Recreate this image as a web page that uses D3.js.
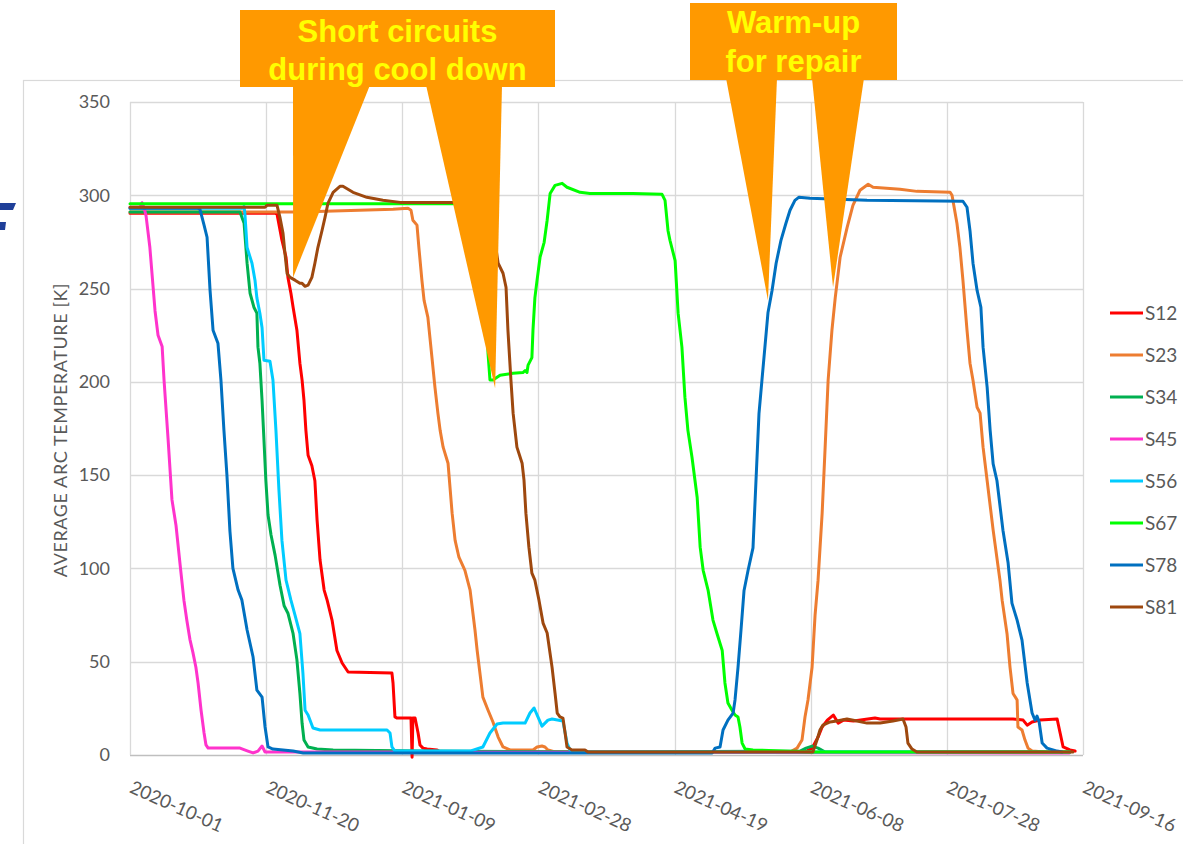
<!DOCTYPE html>
<html><head><meta charset="utf-8">
<script src="https://cdn.jsdelivr.net/npm/d3@7"></script>
<style>body{margin:0;background:#fff;overflow:hidden}</style>
</head><body><svg id="c" width="1183" height="844"></svg>
<script>
// ---------- data ----------
const startDate = "2020-10-01";
const tickLabels = ["2020-10-01","2020-11-20","2021-01-09","2021-02-28","2021-04-19","2021-06-08","2021-07-28","2021-09-16"];
const yTicks = [0,50,100,150,200,250,300,350];
const seriesNames = ["S12","S23","S34","S45","S56","S67","S78","S81"];
const seriesColors = ["#FF0000","#ED7D31","#00B050","#FF33CC","#00CCFF","#00FF00","#0070C0","#9E480E"];
const yTitle = "AVERAGE ARC TEMPERATURE [K]";
// each point: [days since 2020-10-01, temperature K]
const S12 = [[0,290.4],[53.3,290.4],[54.0,289.8],[55.8,275.9],[57.3,266.8],[58.0,256],[59.1,247.5],[59.9,240],[61.3,227.7],[62.4,210],[63.2,200.9],[63.9,190],[64.6,174],[65.4,160.7],[66.8,155],[67.9,147],[68.7,126],[69.8,104.5],[71.3,88.4],[72.4,83],[74.2,72.3],[76.0,56],[77.9,49.3],[80.1,44.5],[96.2,43.9],[96.6,38.6],[97.3,20.4],[98.1,19.8],[103.2,19.8],[103.6,-1.2],[103.9,19.8],[104.7,19.8],[105.8,11.8],[106.5,5.4],[107.6,3.7],[109.1,3.2],[112.8,2.7],[113.9,1.6],[247.9,1.6],[250.5,3.7],[252.7,9.6],[254.2,15],[256.1,18.7],[258.3,21.4],[260.1,17.1],[262.0,18.7],[265.7,18.2],[273.6,19.8],[275.5,19.3],[324.3,19.3],[328.0,18.7],[329.5,16],[331.3,17.7],[334.2,18.7],[340.5,19.3],[341.6,11.8],[342.7,4.3],[345.2,2.7],[347.1,2.1]];
const S23 = [[0,291],[62.4,291],[96.6,292.5],[102.1,293],[103.2,292],[103.9,286.6],[105.4,284],[106.1,272],[107.2,254.5],[108.0,243.7],[109.4,234.6],[110.9,213],[112.0,197],[113.1,183],[113.9,174],[115.0,165],[116.8,156.4],[118.3,129.6],[119.4,115],[120.8,106],[123.0,99],[124.9,88.4],[126.7,67],[127.5,56],[129.6,31],[131.5,24],[133.3,17.7],[135.2,9.6],[137.0,4.3],[139.6,2.7],[148.0,2.7],[149.5,4.3],[151.3,4.8],[152.4,4.3],[153.5,2.7],[156.1,1.6],[242.4,1.6],[245.0,3.7],[246.8,8],[247.9,20.4],[249.0,29.5],[250.5,47],[251.6,75],[252.7,93.7],[254.2,129.6],[255.3,165],[256.4,201],[257.8,227.7],[259.0,245],[260.8,266.8],[263.4,282.9],[265.5,294.6],[268.1,302.7],[271.1,305.9],[272.9,304.3],[282.8,303.2],[289.0,302.1],[301.2,301.6],[301.9,300],[303.7,285],[304.8,272],[305.9,254.5],[307.4,227.7],[308.5,210],[309.6,200.9],[311.1,186.4],[312.2,183.2],[313.3,165],[314.8,147],[317.0,120.5],[319.5,93.7],[320.3,83],[322.1,65],[323.2,47],[324.3,33],[325.8,29.5],[326.1,15],[327.6,13.4],[328.7,8],[329.8,3.7],[331.3,2.1],[336,1.6]];
const S34 = [[0,291],[40.4,291],[41.9,285],[43.0,263.6],[44.1,247.5],[45.5,240],[46.6,236.8],[47.0,218.6],[47.7,210],[48.5,190],[49.2,168.7],[49.9,147],[50.7,128.6],[51.8,117.9],[53.3,107],[55.1,91],[56.6,80],[58.0,76],[59.9,65],[61.3,51],[62.4,33],[63.2,17],[63.9,8],[65.4,4.3],[68.7,3.2],[74.6,2.7],[106.5,2.1],[172.6,1.6],[246.1,2.1],[248.3,3.7],[250.5,4.8],[252.7,3.7],[255.3,1.6],[345.2,1.6]];
const S45 = [[0,293.6],[3.7,293.6],[4.4,296],[5.1,293.6],[5.9,289],[7.3,272],[9.2,238],[10.3,225],[11.8,219],[12.5,201],[14.0,169],[15.4,137],[16.9,123],[18.4,102],[19.8,83],[20.9,72],[22.0,62],[23.1,55],[24.2,47],[25.0,38.6],[26.1,24],[27.2,11.8],[27.9,5.4],[28.7,3.7],[40.4,3.7],[43.3,2.1],[45.2,1.1],[47.0,2.1],[48.5,4.8],[49.6,1.6],[73.5,1.6],[345,1.1]];
const S56 = [[0,293],[41.1,293],[41.9,294],[42.2,290],[43.0,272],[44.8,263.6],[45.9,254.5],[46.6,245],[47.7,236.8],[48.5,229],[49.2,211.6],[51.4,211],[52.5,201],[53.6,174],[54.7,142],[55.8,115],[57.3,93.7],[59.1,83],[60.6,75],[62.4,65],[63.5,44],[64.3,24],[65.4,21.4],[67.2,14.5],[69.8,13.4],[94.4,13.4],[95.5,11.8],[96.2,4.3],[97.3,2.1],[124.9,2.1],[129.6,4.3],[132.2,11.8],[134.8,16.6],[137.0,17.1],[145.1,17.1],[146.9,22.5],[148.4,25.2],[151.3,15.5],[153.5,18.7],[155.0,19.3],[159.0,18.2],[160.5,6.4],[161.6,2.7],[163.4,1.6],[345.2,1.6]];
const S67 = [[0,295.5],[128.5,295.5],[130.4,265],[131.5,215],[132.2,201],[133.3,201],[135.9,203.6],[140.7,204.6],[144.3,205],[145.1,206],[145.8,205],[146.2,209],[147.6,213],[148.0,227.7],[148.7,245],[149.5,254.5],[150.6,266.8],[152.1,274.8],[153.2,286.6],[154.3,301],[156.1,305.3],[158.7,306.4],[160.5,304.3],[165.3,301.6],[168.9,301],[184.7,301],[195.4,300.5],[196.5,297.3],[197.6,281],[198.3,275.9],[200.2,265],[201.3,236.8],[202.7,218.6],[203.8,191.8],[204.9,174],[206.4,159.6],[208.3,138],[209.4,111.4],[210.5,99],[212.3,88.4],[214.1,72.3],[215.6,65],[217.5,56],[218.5,38.6],[219.6,27.9],[221.1,24],[222.2,21.4],[223.3,20.4],[224.0,15],[224.8,6.4],[225.9,3.2],[228.8,2.7],[249.7,1.6],[345.2,1.6]];
const S78 = [[0,293],[25.0,293],[25.7,292.5],[27.2,284],[28.3,277.5],[29.4,249],[30.5,227.7],[32.3,220.7],[33.4,200.9],[34.5,174],[35.6,150],[36.7,120],[37.8,100],[39.7,88.4],[41.1,83],[43.0,67],[45.2,52.5],[46.6,34.8],[48.5,31],[49.6,15],[50.7,4.3],[52.5,3.2],[59.9,2.1],[63.6,1.1],[213.8,1.1],[214.9,3.7],[216.7,4.3],[217.8,13.4],[219.6,18.7],[221.5,22.5],[222.2,29.5],[223.3,47],[224.4,67],[225.5,88],[227.0,99],[228.8,111],[229.9,147],[231.0,183],[232.1,201],[234.3,237],[235.8,249],[237.3,263.6],[239.1,276],[240.9,285],[242.4,292],[244.2,297.3],[245.7,299],[249.7,298.4],[270.7,297.3],[305.9,296.8],[307.4,293.6],[308.5,281],[309.6,263.6],[311.1,249],[312.5,240],[313.3,218.6],[314.8,197],[315.9,174],[317.0,156],[318.4,147],[320.6,120.5],[322.5,102.9],[323.9,81.4],[325.8,72.3],[327.6,61.6],[329.5,38.6],[331.3,22.5],[332.4,18.7],[333.1,20.9],[333.9,17.7],[335.0,6.4],[336.8,3.7],[340.5,2.1],[342.3,1.6]];
const S81 = [[0,293.6],[49.6,293.6],[50.3,294.6],[54.0,294.6],[55.1,288],[56.2,279.6],[56.9,269],[57.7,258],[58.8,256],[60.6,254.5],[62.4,252.8],[63.2,252.8],[64.3,251.2],[65.4,251.8],[66.8,256],[67.9,263.6],[69.0,272],[70.5,281],[71.6,288],[72.7,295.7],[74.6,301.6],[77.1,304.8],[78.2,304.8],[81.9,301.6],[87.0,298.9],[92.9,297.3],[99.2,296.2],[132.2,296.2],[133.7,278.6],[135.2,263.6],[137.0,258.2],[138.1,250.7],[138.8,227.7],[139.9,200.9],[140.7,183.2],[142.1,165],[144.0,156.4],[144.7,147.3],[145.4,129.6],[146.5,111.4],[147.6,97.5],[148.7,93.7],[150.2,83],[151.7,70.7],[153.2,65.4],[155.0,47.1],[156.1,33.2],[156.9,22.5],[157.9,20.4],[159.0,19.8],[159.8,11.8],[160.5,4.3],[162.3,2.7],[167.1,2.7],[168.2,1.6],[250.8,1.6],[252.3,8],[253.4,13.4],[254.5,16],[257.1,17.7],[259.6,18.2],[263.3,19.3],[267.0,18.2],[270.7,17.1],[275.5,17.1],[280.2,18.2],[283.9,19.3],[285.0,15],[285.7,6.4],[287.2,3.2],[289.0,1.6],[346.3,1.6]];
const seriesData = [S12,S23,S34,S45,S56,S67,S78,S81];
// annotations: text lines and pointer tips [days, K]
const note1Lines = ["Short circuits","during cool down"];
const note1Tips = [[59.9,256],[134.1,196.6]];
const note2Lines = ["Warm-up","for repair"];
const note2Tips = [[234.3,243.7],[258.2,250.7]];

// ---------- drawing ----------
const svg = d3.select("#c");
const parse = d3.utcParse("%Y-%m-%d");
const t0 = parse(startDate);
const toDate = d => new Date(t0.getTime() + d*864e5);
const tickDates = tickLabels.map(parse);
const x = d3.scaleUtc().domain([tickDates[0], tickDates[tickDates.length-1]]).range([130,1083]);
const y = d3.scaleLinear().domain([0,350]).range([755,102]);
const font = "Lato, 'Open Sans', sans-serif";
const grey = "#595959";

// outer chart frame
svg.append("rect").attr("x",23.5).attr("y",80.5).attr("width",1300).attr("height",900)
  .attr("fill","none").attr("stroke","#D9D9D9").attr("stroke-width",1.2);

// clipped fragment of slide graphics at the left edge
svg.append("path").attr("d","M0,203 L16,203 L13,210 L0,210 Z M0,222 L6,222 L5,230 L0,230 Z").attr("fill","#1F3F99");

// gridlines
const g = svg.append("g");
g.selectAll(".hg").data(yTicks).join("line")
  .attr("x1",130).attr("x2",1083).attr("y1",d=>Math.round(y(d))+0.5).attr("y2",d=>Math.round(y(d))+0.5)
  .attr("stroke",d=>d===0?"#BFBFBF":"#D9D9D9").attr("stroke-width",1.3);
g.selectAll(".vg").data(tickDates).join("line")
  .attr("y1",102).attr("y2",755).attr("x1",d=>Math.round(x(d))+0.5).attr("x2",d=>Math.round(x(d))+0.5)
  .attr("stroke","#D9D9D9").attr("stroke-width",1.3);

// y axis labels
const yAxis = d3.axisLeft(y).tickValues(yTicks).tickSize(0).tickPadding(20);
const ya = svg.append("g").attr("transform","translate(130,0)").call(yAxis);
ya.select(".domain").remove();
ya.selectAll("text").attr("font-family",font).attr("font-size",18).attr("fill",grey);

// x axis labels (rotated)
const xAxis = d3.axisBottom(x).tickValues(tickDates).tickSize(0).tickFormat(d3.utcFormat("%Y-%m-%d"));
const xa = svg.append("g").attr("transform","translate(0,755)").call(xAxis);
xa.select(".domain").remove();
xa.selectAll("text").attr("font-family",font).attr("font-size",18.5).attr("fill",grey)
  .attr("text-anchor","start").attr("dy",0).attr("y",0)
  .attr("transform","translate(-2,37) rotate(24)");

// y title
svg.append("text").attr("transform","translate(67,430) rotate(-90)").attr("text-anchor","middle")
  .attr("font-family",font).attr("font-size",18).attr("letter-spacing",0.6).attr("fill",grey).text(yTitle);

// series lines
const line = d3.line().x(d=>x(toDate(d[0]))).y(d=>y(d[1]));
svg.append("g").selectAll("path").data(seriesData).join("path")
  .attr("d",line).attr("fill","none").attr("stroke",(d,i)=>seriesColors[i])
  .attr("stroke-width",3).attr("stroke-linejoin","round").attr("stroke-linecap","round");

// legend
const lg = svg.append("g").selectAll("g").data(seriesNames).join("g")
  .attr("transform",(d,i)=>`translate(1110,${313+i*42})`);
lg.append("line").attr("x1",0).attr("x2",33).attr("stroke",(d,i)=>seriesColors[i]).attr("stroke-width",3);
lg.append("text").attr("x",35).attr("dy","0.35em").text(d=>d)
  .attr("font-family",font).attr("font-size",19).attr("fill",grey);

// callouts
const orange = "#FF9900";
function callout(box, bases, tips, lines, baselines){
  const c = svg.append("g");
  c.selectAll("polygon").data(bases).join("polygon")
    .attr("points",(b,i)=>`${b[0]},${box.y1-2} ${b[1]},${box.y1-2} ${x(toDate(tips[i][0]))},${y(tips[i][1])}`)
    .attr("fill",orange);
  c.append("rect").attr("x",box.x0).attr("y",box.y0).attr("width",box.x1-box.x0).attr("height",box.y1-box.y0).attr("fill",orange);
  c.selectAll("text").data(lines).join("text")
    .attr("x",(box.x0+box.x1)/2).attr("y",(d,i)=>baselines[i]).attr("text-anchor","middle")
    .attr("font-family","'Liberation Sans', Arial, sans-serif").attr("font-weight","bold")
    .attr("font-size",31).attr("fill","#FFFF00").text(d=>d);
}
callout({x0:240,x1:555,y0:10,y1:87},[[293,370],[426,502]],note1Tips,note1Lines,[42,80]);
callout({x0:690,x1:897,y0:3,y1:80},[[726,777],[812,864]],note2Tips,note2Lines,[33,72]);
</script></body></html>
